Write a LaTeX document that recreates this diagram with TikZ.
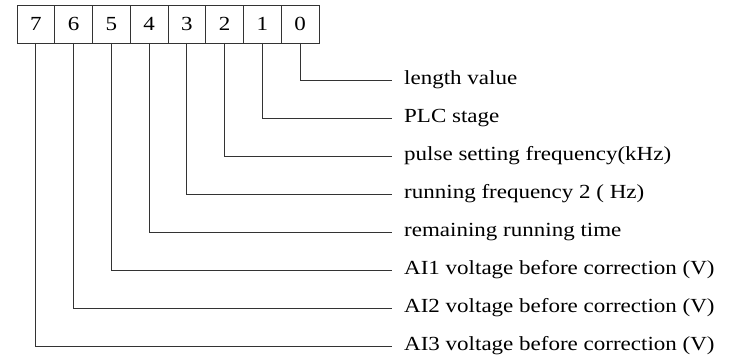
\documentclass[tikz,border=0pt]{standalone}
\usepackage{fontspec}
\setmainfont[FakeStretch=1.15]{Liberation Serif}
\usepackage{tikz}
\usetikzlibrary{positioning}

\begin{document}
\begin{tikzpicture}[
  x=1pt, y=-1pt,
  digit/.style={rectangle, draw=black!80, line width=0.9pt, outer sep=0pt, inner sep=0pt,
    minimum width=37.75pt, minimum height=38pt, font=\fontsize{20}{24}\selectfont},
  lbl/.style={anchor=west, inner xsep=12pt, inner ysep=0pt, font=\fontsize{20}{24}\selectfont},
  wire/.style={draw=black!80, line width=0.9pt}
]
\useasboundingbox (0,0) rectangle (740,358);

% register bits
\node[digit, anchor=north west] (b7) at (17,5) {7};
\node[digit, right=0pt of b7] (b6) {6};
\node[digit, right=0pt of b6] (b5) {5};
\node[digit, right=0pt of b5] (b4) {4};
\node[digit, right=0pt of b4] (b3) {3};
\node[digit, right=0pt of b3] (b2) {2};
\node[digit, right=0pt of b2] (b1) {1};
\node[digit, right=0pt of b1] (b0) {0};

% meanings
\node[lbl] (l0) at (392,80) {length value};
\node[lbl] (l1) at (392,118) {PLC stage};
\node[lbl] (l2) at (392,156) {pulse setting frequency(kHz)};
\node[lbl] (l3) at (392,194) {running frequency 2 ( Hz)};
\node[lbl] (l4) at (392,232) {remaining running time};
\node[lbl] (l5) at (392,270) {AI1 voltage before correction (V)};
\node[lbl] (l6) at (392,308) {AI2 voltage before correction (V)};
\node[lbl] (l7) at (392,346) {AI3 voltage before correction (V)};

\draw[wire] (b0.south) |- (l0.west);
\draw[wire] (b1.south) |- (l1.west);
\draw[wire] (b2.south) |- (l2.west);
\draw[wire] (b3.south) |- (l3.west);
\draw[wire] (b4.south) |- (l4.west);
\draw[wire] (b5.south) |- (l5.west);
\draw[wire] (b6.south) |- (l6.west);
\draw[wire] (b7.south) |- (l7.west);
\end{tikzpicture}
\end{document}
